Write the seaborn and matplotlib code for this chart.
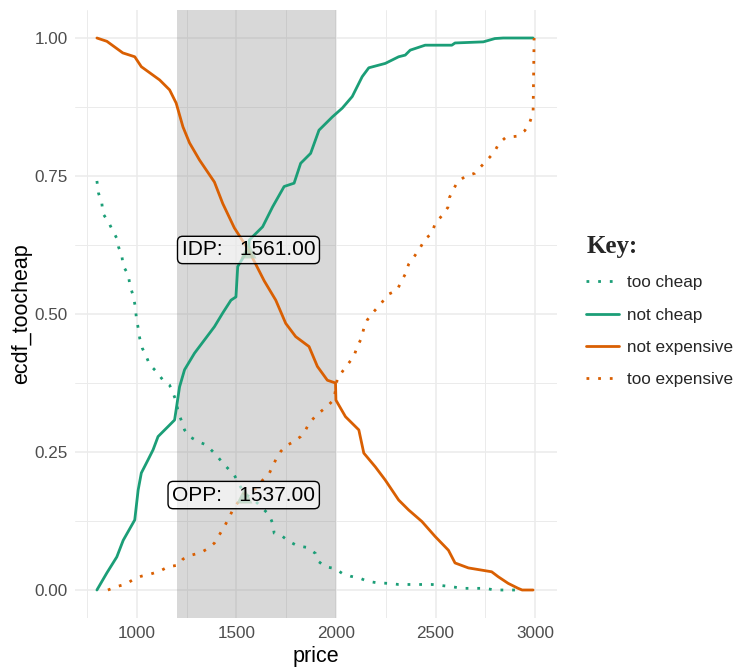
import matplotlib
matplotlib.use("Agg")
import matplotlib.pyplot as plt
from matplotlib.lines import Line2D
from matplotlib.ticker import MultipleLocator
import seaborn as sns
import pandas as pd

# curves (price, share)
tc_price = [800, 808, 825, 830, 858, 875, 900, 908, 925, 932, 958, 965, 982, 993, 998,
            1007, 1015, 1028, 1048, 1065, 1098, 1132, 1165, 1182, 1200, 1207, 1223, 1240,
            1265, 1307, 1348, 1398, 1432, 1490, 1537, 1598, 1632, 1665, 1682, 1690, 1732,
            1765, 1807, 1857, 1898, 1915, 1948, 1995, 2032, 2073, 2123, 2157, 2207, 2265,
            2315, 2427, 2482, 2532, 2582, 2632, 2748, 2798, 2907]
tc_share = [0.741, 0.719, 0.70, 0.682, 0.667, 0.654, 0.637, 0.622, 0.606, 0.587, 0.571,
            0.553, 0.533, 0.513, 0.493, 0.475, 0.456, 0.438, 0.423, 0.408, 0.396, 0.38,
            0.371, 0.357, 0.34, 0.323, 0.308, 0.29, 0.278, 0.269, 0.263, 0.245, 0.23, 0.208,
            0.176, 0.16, 0.148, 0.136, 0.121, 0.103, 0.097, 0.088, 0.08, 0.077, 0.066,
            0.051, 0.042, 0.039, 0.03, 0.025, 0.021, 0.016, 0.013, 0.012, 0.01, 0.01, 0.01,
            0.008, 0.006, 0.003, 0.003, 0.0, 0.0]

nc_price = [800, 850, 900, 932, 990, 1007, 1023, 1057, 1082, 1107, 1157, 1190, 1200, 1215,
            1240, 1290, 1340, 1390, 1432, 1473, 1498, 1507, 1561, 1565, 1632, 1682, 1740,
            1790, 1823, 1873, 1915, 1982, 2032, 2082, 2132, 2165, 2248, 2315, 2348, 2373,
            2448, 2582, 2598, 2740, 2798, 2840, 2990]
nc_share = [0.0, 0.031, 0.06, 0.09, 0.127, 0.181, 0.212, 0.236, 0.254, 0.278, 0.296, 0.308,
            0.332, 0.368, 0.399, 0.429, 0.453, 0.477, 0.502, 0.525, 0.531, 0.586, 0.618,
            0.634, 0.658, 0.694, 0.731, 0.737, 0.773, 0.791, 0.833, 0.857, 0.873, 0.894,
            0.93, 0.946, 0.954, 0.966, 0.969, 0.978, 0.987, 0.987, 0.991, 0.993, 0.999,
            1.0, 1.0]

ne_price = [800, 850, 930, 990, 1023, 1115, 1165, 1198, 1232, 1265, 1315, 1390, 1432, 1490,
            1561, 1640, 1698, 1748, 1798, 1865, 1907, 1957, 1998, 2000, 2048, 2115, 2140,
            2198, 2248, 2315, 2365, 2432, 2498, 2565, 2598, 2665, 2782, 2815, 2865, 2915,
            2935, 2990]
ne_share = [1.0, 0.994, 0.973, 0.966, 0.948, 0.924, 0.906, 0.882, 0.839, 0.81, 0.779, 0.739,
            0.70, 0.656, 0.616, 0.56, 0.525, 0.483, 0.459, 0.441, 0.405, 0.38, 0.375, 0.344,
            0.314, 0.29, 0.248, 0.223, 0.199, 0.163, 0.145, 0.124, 0.097, 0.072, 0.049,
            0.04, 0.033, 0.024, 0.012, 0.003, 0.0, 0.0]

te_price = [855, 908, 948, 982, 1023, 1070, 1115, 1157, 1207, 1232, 1273, 1323, 1357, 1390,
            1415, 1440, 1462, 1482, 1537, 1598, 1632, 1665, 1698, 1723, 1748, 1790, 1823,
            1848, 1865, 1895, 1923, 1957, 1990, 2007, 2035, 2062, 2090, 2107, 2128, 2140,
            2157, 2182, 2212, 2240, 2265, 2307, 2328, 2348, 2365, 2395, 2423, 2448, 2482,
            2498, 2532, 2562, 2570, 2590, 2612, 2653, 2698, 2728, 2762, 2795, 2818, 2853,
            2907, 2948, 2973, 2990, 2995]
te_share = [0.0, 0.007, 0.011, 0.019, 0.025, 0.029, 0.034, 0.042, 0.045, 0.056, 0.063,
            0.068, 0.075, 0.085, 0.1, 0.115, 0.13, 0.145, 0.174, 0.184, 0.199, 0.211, 0.236,
            0.251, 0.261, 0.269, 0.278, 0.29, 0.302, 0.314, 0.323, 0.333, 0.345, 0.383,
            0.397, 0.41, 0.423, 0.441, 0.456, 0.474, 0.489, 0.501, 0.513, 0.525, 0.536,
            0.543, 0.559, 0.572, 0.59, 0.605, 0.62, 0.636, 0.646, 0.664, 0.678, 0.693,
            0.711, 0.726, 0.74, 0.75, 0.755, 0.767, 0.78, 0.793, 0.809, 0.82, 0.822, 0.832,
            0.847, 0.865, 1.0]

series_names = ["too cheap", "not cheap", "not expensive", "too expensive"]

# acceptable price range and the two points
range_low, range_high = 1200, 2000
idp_price, idp_share = 1561, 0.616
opp_price, opp_share = 1537, 0.172

green = "#1B9E77"
orange = "#D95F02"

sns.set_theme(style="white")
plt.rcParams["font.family"] = ["Liberation Sans", "DejaVu Sans"]

fig = plt.figure(figsize=(7.38, 6.71), dpi=100)
ax = fig.add_axes([75 / 738, 1 - 617.6 / 671, (557 - 75) / 738, (617.6 - 10.4) / 671])

ax.axvspan(range_low, range_high, color="#7f7f7f", alpha=0.3, lw=0, zorder=1)

curves = [(tc_price, tc_share, green, (0, (1, 3.2))),
          (nc_price, nc_share, green, "-"),
          (ne_price, ne_share, orange, "-"),
          (te_price, te_share, orange, (0, (1, 3.2)))]
handles = []
for name, (xs, ys, col, ls) in zip(series_names, curves):
    df = pd.DataFrame({"price": xs, "share": ys})
    sns.lineplot(data=df, x="price", y="share", ax=ax, color=col, linestyle=ls,
                 linewidth=2.0, estimator=None, sort=False, zorder=3)
    handles.append(Line2D([], [], color=col, linestyle=ls, linewidth=2.0, label=name))

# intersection markers and labels
for px, py, txt in [(idp_price, idp_share, "IDP:   1561.00"),
                    (opp_price, opp_share, "OPP:   1537.00")]:
    ax.scatter([px], [py], marker="^", s=130, color=orange, alpha=0.35, lw=0, zorder=4)
    ax.scatter([px], [py], marker="^", s=130, color=green, alpha=0.55, lw=0, zorder=4)
    ax.text(px, py, txt, ha="center", va="center", fontsize=15, color="black", zorder=6,
            bbox=dict(boxstyle="round,pad=0.2,rounding_size=0.25", fc=(1, 1, 1, 0.6),
                      ec="black", lw=1.0))

ax.set_xlim(690, 3110)
ax.set_ylim(-0.05, 1.05)
ax.xaxis.set_minor_locator(MultipleLocator(250))
ax.yaxis.set_minor_locator(MultipleLocator(0.125))
ax.set_xticks([1000, 1500, 2000, 2500, 3000])
ax.set_yticks([0, 0.25, 0.5, 0.75, 1.0])
ax.set_yticklabels(["0.00", "0.25", "0.50", "0.75", "1.00"])
ax.grid(which="major", color="#EBEBEB", lw=1.1, zorder=0)
ax.grid(which="minor", color="#EBEBEB", lw=0.7, zorder=0)
ax.set_axisbelow(True)
for s in ax.spines.values():
    s.set_visible(False)
ax.tick_params(which="both", length=0, labelsize=12.3, labelcolor="#4D4D4D")
ax.tick_params(axis="x", pad=6)
ax.tick_params(axis="y", pad=5)
ax.set_xlabel("price", fontsize=15.5, color="black", labelpad=4)
ax.set_ylabel("ecdf_toocheap", fontsize=15.5, color="black", labelpad=2)

leg = fig.legend(handles=handles, loc="upper left", bbox_to_anchor=(571 / 738, 1 - 220 / 671),
                 frameon=False, fontsize=12.3, handlelength=1.9, handletextpad=0.5,
                 labelspacing=1.0, title="Key:")
leg.get_title().set_fontfamily("Liberation Serif")
leg.get_title().set_fontweight("bold")
leg.get_title().set_fontsize(18)
leg._legend_box.align = "left"

fig.savefig("out.png", dpi=100)
